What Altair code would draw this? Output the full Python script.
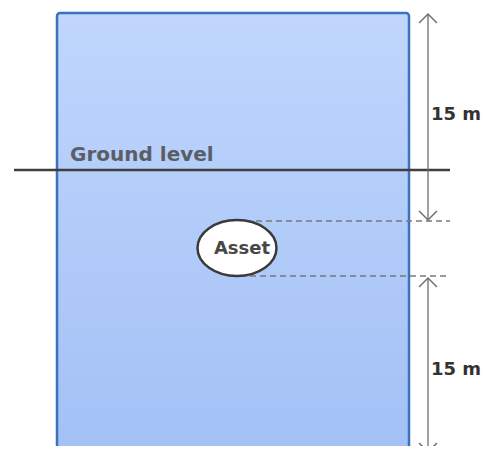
import altair as alt
import pandas as pd

# Diagram geometry, in picture units (x to the right, y downward)
box_x = [57, 409]
box_y = [13, 470]
ground_x = [14, 450]
ground_y = [170]
asset_xy = [237, 248]
asset_w = 79
asset_ratio = 0.71
dash_y = [221, 276]
dash_x1 = [256, 250]
dash_x2 = [450, 447]
arrow_x = [428, 428]
arrow_y1 = [14, 278]
arrow_y2 = [220, 452]
dist_label_y = [115, 370]
dist_labels = ["15 m", "15 m"]
ground_label = "Ground level"
asset_label = "Asset"

X = alt.Scale(domain=[8, 490], nice=False, zero=False)
Y = alt.Scale(domain=[8, 446], nice=False, zero=False, reverse=True)


def xe(f, **kw):
    return alt.X(f, type="quantitative", scale=X, axis=None, **kw)


def ye(f, **kw):
    return alt.Y(f, type="quantitative", scale=Y, axis=None, **kw)


box = alt.Chart(pd.DataFrame({"x": [box_x[0]], "x2": [box_x[1]], "y": [box_y[0]], "y2": [box_y[1]]})).mark_rect(
    fill=alt.LinearGradient(gradient="linear", x1=0, y1=0, x2=0, y2=1,
                            stops=[alt.GradientStop(offset=0, color="#c0d6fc"),
                                   alt.GradientStop(offset=1, color="#a2c0f6")]),
    stroke="#3a72bb", strokeWidth=2.5, cornerRadius=3, clip=True, opacity=1,
).encode(x=xe("x"), x2="x2", y=ye("y"), y2="y2")

ground = alt.Chart(pd.DataFrame({"x": [ground_x[0]], "x2": [ground_x[1]], "y": ground_y})).mark_rule(
    color="#3f3f3f", strokeWidth=2.5
).encode(x=xe("x"), x2="x2", y=ye("y"))

dashes = alt.Chart(pd.DataFrame({"x": dash_x1, "x2": dash_x2, "y": dash_y})).mark_rule(
    color="#7a7a7a", strokeWidth=1.3, strokeDash=[6, 4]
).encode(x=xe("x"), x2="x2", y=ye("y"))

shafts = alt.Chart(pd.DataFrame({"x": arrow_x, "y": arrow_y1, "y2": arrow_y2})).mark_rule(
    color="#6e6e6e", strokeWidth=1.3
).encode(x=xe("x"), y=ye("y"), y2="y2")

heads_up = alt.Chart(pd.DataFrame({"x": arrow_x, "y": arrow_y1})).mark_point(
    shape="M-1,1L0,0L1,1", filled=False, stroke="#6e6e6e", strokeWidth=1.5, size=320, opacity=1
).encode(x=xe("x"), y=ye("y"))

heads_down = alt.Chart(pd.DataFrame({"x": arrow_x, "y": arrow_y2})).mark_point(
    shape="M-1,-1L0,0L1,-1", filled=False, stroke="#6e6e6e", strokeWidth=1.5, size=320, opacity=1
).encode(x=xe("x"), y=ye("y"))

r = asset_ratio
asset = alt.Chart(pd.DataFrame({"x": [asset_xy[0]], "y": [asset_xy[1]]})).mark_point(
    shape=f"M-1,0A1,{r} 0 1,1 1,0A1,{r} 0 1,1 -1,0Z",
    filled=True, fill="white", stroke="#3a3a3a", strokeWidth=2.5, size=asset_w ** 2,
    opacity=1, fillOpacity=1,
).encode(x=xe("x"), y=ye("y"))

asset_text = alt.Chart(pd.DataFrame({"x": [asset_xy[0] + 5], "y": [asset_xy[1] + 1], "t": [asset_label]})).mark_text(
    font="DejaVu Sans", fontWeight="bold", fontSize=18, color="#474747", align="center", baseline="middle"
).encode(x=xe("x"), y=ye("y"), text="t:N")

ground_text = alt.Chart(pd.DataFrame({"x": [70], "y": [155], "t": [ground_label]})).mark_text(
    font="DejaVu Sans", fontWeight="bold", fontSize=20, color="#5a5e66", align="left", baseline="middle"
).encode(x=xe("x"), y=ye("y"), text="t:N")

dist_text = alt.Chart(pd.DataFrame({"x": [431, 431], "y": dist_label_y, "t": dist_labels})).mark_text(
    font="DejaVu Sans", fontWeight="bold", fontSize=18, color="#333333", align="left", baseline="middle"
).encode(x=xe("x"), y=ye("y"), text="t:N")

chart = alt.layer(box, ground, dashes, shafts, heads_up, heads_down, asset, asset_text, ground_text, dist_text).properties(
    width=482, height=438, padding=0, autosize=alt.AutoSizeParams(type="none")
).configure_view(stroke=None)

chart.save("out.html", embed_options={"renderer": "svg", "actions": False})
